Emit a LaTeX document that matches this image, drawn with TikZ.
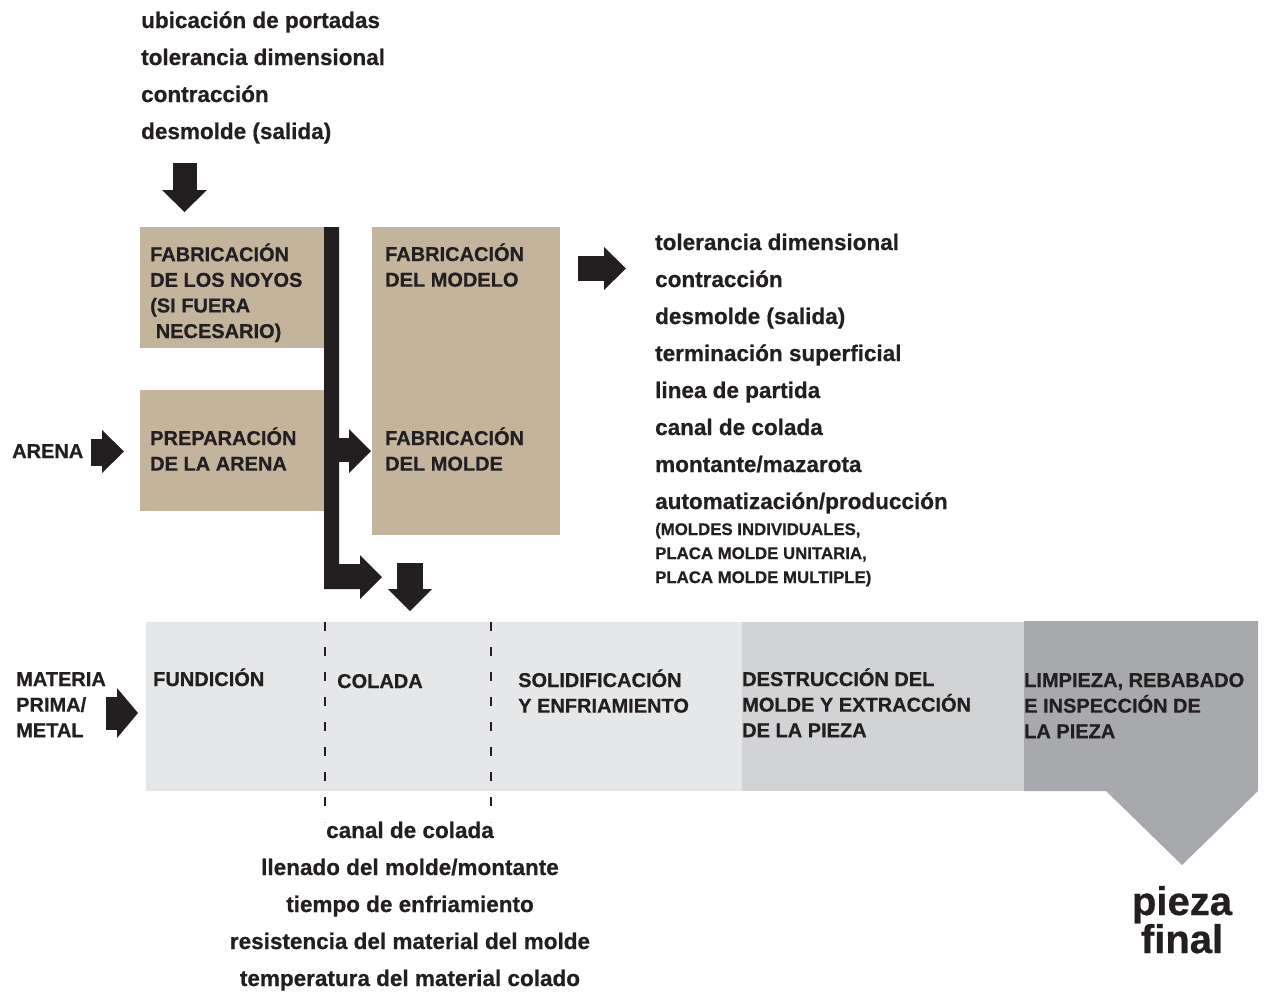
\documentclass[tikz,border=0pt]{standalone}
\usepackage{fontspec}
\setmainfont{Liberation Sans}[BoldFeatures={FakeBold=0.6}]
\definecolor{ink}{HTML}{231F20}
\definecolor{tan}{HTML}{C4B49C}
\definecolor{bandA}{HTML}{E6E7E8}
\definecolor{bandB}{HTML}{D1D3D4}
\definecolor{bandC}{HTML}{A7A9AC}
\begin{document}
\begin{tikzpicture}[x=1pt,y=-1pt,
  listitem/.style={anchor=base west, inner sep=0pt, text=ink, font=\bfseries\fontsize{22.5}{37}\selectfont},
  clistitem/.style={anchor=base, inner sep=0pt, text=ink, font=\bfseries\fontsize{22.5}{37}\selectfont},
  smallitem/.style={anchor=base west, inner sep=0pt, text=ink, font=\bfseries\fontsize{16.8}{24}\selectfont},
  captxt/.style={anchor=base west, inner sep=0pt, text=ink, align=left, font=\bfseries\fontsize{20}{25.6}\selectfont},
  bigtxt/.style={anchor=base, inner sep=0pt, text=ink, align=center, font=\bfseries\fontsize{40}{38}\selectfont},
  blk/.style={fill=ink, draw=none},
  tanbox/.style={fill=tan, draw=none},
  dashsep/.style={draw=ink, line width=2.8pt, dash pattern=on 9pt off 16pt}]
\useasboundingbox (0,0) rectangle (1269,996);
\fill[white] (0,0) rectangle (1269,996);

% top list
\node[listitem] (t1) at (141,28) {ubicación de portadas};
\node[listitem] (t2) at (141,65) {tolerancia dimensional};
\node[listitem] (t3) at (141,102) {contracción};
\node[listitem] (t4) at (141,139) {desmolde (salida)};
% top down arrow
\fill[blk] (173,163) rectangle (197,190);
\fill[blk] (162,190) -- (207,190) -- (184.5,212) -- cycle;

% boxes
\fill[tanbox] (140,227) rectangle (324,348);
\fill[tanbox] (140,390) rectangle (324,511);
\fill[tanbox] (372,227) rectangle (560,535);
% (base anchor of a multi-line node = baseline of its last line)
\node[captxt] (noyos) at (150,338) {FABRICACIÓN\\DE LOS NOYOS\\(SI FUERA\\\ NECESARIO)};
\node[captxt] (arenaprep) at (150,470.6) {PREPARACIÓN\\DE LA ARENA};
\node[captxt] (modelo) at (385,286.6) {FABRICACIÓN\\DEL MODELO};
\node[captxt] (molde) at (385,470.6) {FABRICACIÓN\\DEL MOLDE};

% vertical bar with bend
\fill[blk] (324,227) -- (339,227) -- (339,564) -- (360,564) -- (360,555) -- (382,577) -- (360,599) -- (360,589) -- (324,589) -- cycle;
% bar to molde arrow
\fill[blk] (339,438) rectangle (349,462);
\fill[blk] (349,429) -- (371,451) -- (349,473) -- cycle;
% down arrow to colada
\fill[blk] (397,563) rectangle (423,589);
\fill[blk] (388,589) -- (432,589) -- (410,611) -- cycle;

% ARENA
\node[captxt] (arena) at (12,458) {ARENA};
\fill[blk] (91,439) rectangle (102,466);
\fill[blk] (102,430) -- (124,451.5) -- (102,473) -- cycle;

% right arrow to list
\fill[blk] (578,256) rectangle (604,281);
\fill[blk] (604,247) -- (626,268.5) -- (604,290) -- cycle;

% right list
\node[listitem] (r1) at (655,250) {tolerancia dimensional};
\node[listitem] (r2) at (655,287) {contracción};
\node[listitem] (r3) at (655,324) {desmolde (salida)};
\node[listitem] (r4) at (655,361) {terminación superficial};
\node[listitem] (r5) at (655,398) {linea de partida};
\node[listitem] (r6) at (655,435) {canal de colada};
\node[listitem] (r7) at (655,472) {montante/mazarota};
\node[listitem] (r8) at (655,509) {automatización/producción};
\node[smallitem] (r9) at (655,535) {(MOLDES INDIVIDUALES,};
\node[smallitem] (r10) at (655,559) {PLACA MOLDE UNITARIA,};
\node[smallitem] (r11) at (655,583) {PLACA MOLDE MULTIPLE)};

% band
\fill[bandA] (146,622) rectangle (742,791);
\fill[bandB] (742,622) rectangle (1024,791);
\fill[bandC] (1024,621) -- (1258,621) -- (1258,791) -- (1182,865) -- (1106,791) -- (1024,791) -- cycle;
\draw[dashsep] (325,622) -- (325,822);
\draw[dashsep] (491,622) -- (491,822);

\node[captxt] (materia) at (16,737.2) {MATERIA\\PRIMA/\\METAL};
\fill[blk] (106,697) rectangle (117,730);
\fill[blk] (117,688) -- (138,713) -- (117,738) -- cycle;

\node[captxt] (fund) at (153,686) {FUNDICIÓN};
\node[captxt] (colada) at (337,688) {COLADA};
\node[captxt] (solid) at (518,712.6) {SOLIDIFICACIÓN\\Y ENFRIAMIENTO};
\node[captxt] (destr) at (742,737.2) {DESTRUCCIÓN DEL\\MOLDE Y EXTRACCIÓN\\DE LA PIEZA};
\node[captxt] (limp) at (1024,738.2) {LIMPIEZA, REBABADO\\E INSPECCIÓN DE\\LA PIEZA};

% bottom list
\node[clistitem] (b1) at (410,838) {canal de colada};
\node[clistitem] (b2) at (410,875) {llenado del molde/montante};
\node[clistitem] (b3) at (410,912) {tiempo de enfriamiento};
\node[clistitem] (b4) at (410,949) {resistencia del material del molde};
\node[clistitem] (b5) at (410,986) {temperatura del material colado};

\node[bigtxt] (pieza) at (1182,953) {pieza\\final};
\end{tikzpicture}
\end{document}
